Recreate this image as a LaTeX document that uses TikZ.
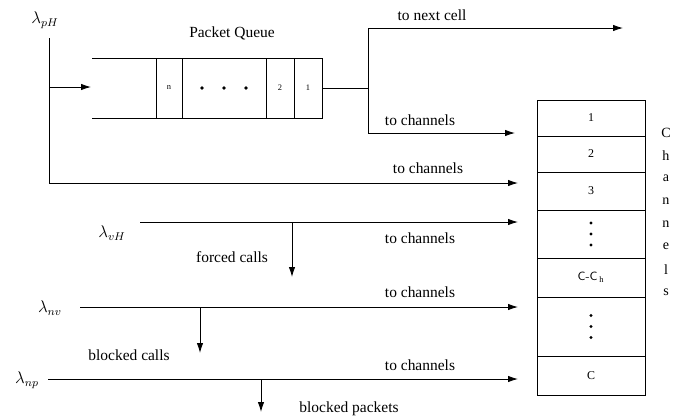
\documentclass[tikz,border=0pt]{standalone}
\usepackage{fontspec}
\setmainfont{Liberation Serif}
\usetikzlibrary{arrows.meta}
\tikzset{
  arr/.style={-{Latex[length=7pt,width=4.5pt]}},
  lbl/.style={font=\fontsize{11}{12}\selectfont, inner sep=1pt},
  lam/.style={font=\fontsize{12}{14}\selectfont, inner sep=1pt},
  qcell/.style={draw, minimum height=42.7pt, inner sep=0pt, outer sep=0pt, font=\fontsize{6}{7}\selectfont},
  chan/.style={draw, minimum width=76.8pt, inner sep=0pt, outer sep=0pt, font=\fontsize{8.5}{10}\selectfont},
  chl/.style={font=\fontsize{10}{11}\selectfont, inner sep=0pt}
}
\begin{document}
\begin{tikzpicture}[x=0.025cm, y=-0.025cm, line width=0.6pt]
    \useasboundingbox (0,0) rectangle (680,417);
    % packet queue
    \node[qcell, minimum width=18.5pt] (qn) at (169,88) {n};
    \node[qcell, minimum width=59.7pt] (qdots) at (224,88) {};
    \node[qcell, minimum width=19.9pt] (q2) at (280,88) {2};
    \node[qcell, minimum width=19.9pt] (q1) at (308,88) {1};
    \draw (qn.north west) -- ++(-64,0); \draw (qn.south west) -- ++(-64,0);
    \foreach \d in {-22,0,22} \fill (qdots) ++(\d,0) circle (1.4pt);
    \node[lbl] (pq) at (232,33) {Packet Queue};
    % channels
    \foreach \nm/\ya/\yb/\txt in {1/100/136/1, 2/136/172/2, 3/172/210/3, d1/210/258/{},
        h/258/297/{\textsf{C-C}\,$_{\mathrm{h}}$}, d2/297/356/{}, c/356/395/C}
        \node[chan, minimum height={(\yb-\ya)*0.7113pt}] (ch\nm) at (591,{(\ya+\yb)/2}) {\txt};
    \foreach \d in {-11,0,11} {\fill (chd1) ++(0,\d) circle (1.2pt); \fill (chd2) ++(0,\d) circle (1.2pt);}
    \foreach \l [count=\i] in {C,h,a,n,n,e,l,s}
        \node[chl] (cl\i) at (666,{133+(\i-1)*22.7}) {\l};
    % packet arrivals
    \node[lam] (lpH) at (45,20) {$\lambda_{pH}$};
    \coordinate (pHtop) at (49,38);
    \draw[arr] (pHtop) |- (518,183) coordinate (inpH);
    \draw[arr] (49,87) -- (91,87);
    \draw (q1.east) -- (368,88) coordinate (split);
    \draw[arr] (split) |- (623,28) coordinate (next);
    \draw[arr] (split) |- (515,133) coordinate (inq);
    \node[lbl] (tnc) at (432,15) {to next cell};
    \node[lbl] (tc1) at (420,120) {to channels};
    \node[lbl] (tc2) at (428,168) {to channels};
    % voice handoff
    \node[lam] (lvH) at (112,233) {$\lambda_{vH}$};
    \draw[arr] (140,222) -- (518,222);
    \draw[arr] (292,222) -- (292,277);
    \node[lbl] (tc3) at (420,238) {to channels};
    \node[lbl] (fc) at (232,257) {forced calls};
    % new voice
    \node[lam] (lnv) at (50,308) {$\lambda_{nv}$};
    \draw[arr] (80,307) -- (518,307);
    \draw[arr] (200,307) -- (200,353);
    \node[lbl] (tc4) at (420,292) {to channels};
    \node[lbl] (bc) at (129,355) {blocked calls};
    % new packets
    \node[lam] (lnp) at (27,380) {$\lambda_{np}$};
    \draw[arr] (48,379) -- (518,379);
    \draw[arr] (261,379) -- (261,412);
    \node[lbl] (tc5) at (420,365) {to channels};
    \node[lbl] (bp) at (349,409) {blocked packets};
\end{tikzpicture}
\end{document}
